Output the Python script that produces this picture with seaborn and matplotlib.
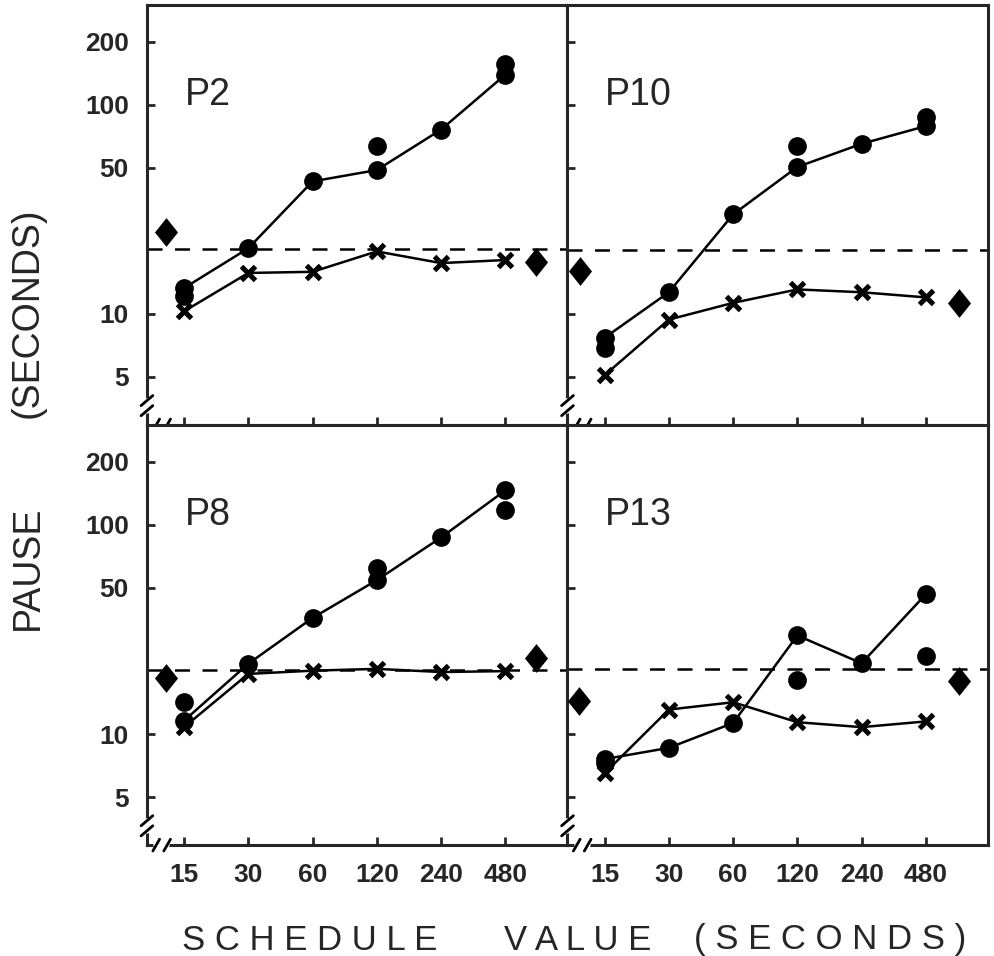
import numpy as np
import pandas as pd
import seaborn as sns
import matplotlib.pyplot as plt

# schedule values (s) on the x axis
schedule = [15, 30, 60, 120, 240, 480]
panels = ["P2", "P10", "P8", "P13"]

# connected filled circles, one per schedule value
circle_line = {
    "P2": [13.3, 20.6, 43, 48.7, 76, 139],
    "P10": [7.7, 12.7, 29.9, 50.4, 65, 79],
    "P8": [11.6, 21.7, 35.9, 54.4, 87, 146],
    "P13": [7.6, 8.6, 11.3, 29.6, 21.8, 46.6],
}
# extra (unconnected) circles
circle_extra = {
    "P2": [12.2, np.nan, np.nan, 63.5, np.nan, 157],
    "P10": [6.9, np.nan, np.nan, 63.5, np.nan, 87],
    "P8": [14.2, np.nan, np.nan, 62, np.nan, 118],
    "P13": [7.3, np.nan, np.nan, 18.2, np.nan, 23.6],
}
# crosses
cross_line = {
    "P2": [10.3, 15.7, 15.9, 19.9, 17.5, 18.1],
    "P10": [5.1, 9.4, 11.3, 13.1, 12.7, 12.0],
    "P8": [10.8, 19.4, 20.1, 20.5, 19.8, 20.0],
    "P13": [6.5, 13.1, 14.2, 11.4, 10.8, 11.5],
}
# diamonds before and after the schedule series
diamond_x = {
    "P2": [12.4, 670], "P10": [11.5, 683], "P8": [12.3, 665], "P13": [11.4, 683],
}
diamond_y = {
    "P2": [24.6, 17.8], "P10": [16.0, 11.3], "P8": [18.6, 23.1], "P13": [14.4, 18.0],
}
# dashed reference level
dashed_level = {"P2": 20.4, "P10": 20.2, "P8": 20.3, "P13": 20.5}

yticks = [5, 10, 50, 100, 200]

sns.set_style("ticks")
plt.rcParams["font.family"] = ["Liberation Sans", "DejaVu Sans"]

fig, axes = plt.subplots(2, 2, figsize=(9.95, 9.56), dpi=100, sharex=True, sharey=True)
fig.subplots_adjust(left=0.1477, right=0.993, top=0.995, bottom=0.116, wspace=0, hspace=0)

diamond_marker = [(0, 1), (0.8, 0), (0, -1), (-0.8, 0), (0, 1)]


def add_breaks(ax):
    kw = dict(transform=ax.transAxes, clip_on=False)
    # y axis break
    ax.plot([0, 0], [0.034, 0.058], color="white", lw=4, zorder=5, **kw)
    for y in (0.034, 0.058):
        ax.plot([-0.014, 0.014], [y - 0.012, y + 0.012], color="black", lw=2, zorder=6, **kw)
    # x axis break
    ax.plot([0.022, 0.048], [0, 0], color="white", lw=4, zorder=5, **kw)
    for x in (0.022, 0.048):
        ax.plot([x - 0.008, x + 0.008], [-0.014, 0.014], color="black", lw=2, zorder=6, **kw)


for ax, p in zip(axes.flat, panels):
    ax.set_xscale("log", base=2)
    ax.set_yscale("log")

    ax.axhline(dashed_level[p], color="black", lw=1.8, dashes=(6, 5), zorder=1)

    sns.lineplot(x=schedule, y=circle_line[p], ax=ax, color="black", lw=1.8,
                 marker="o", markersize=13.5, markeredgewidth=0, zorder=3)
    sns.lineplot(x=schedule, y=cross_line[p], ax=ax, color="black", lw=1.8,
                 marker="x", markersize=10.5, markeredgewidth=3.6,
                 markeredgecolor="black", zorder=3)
    sns.scatterplot(x=schedule, y=circle_extra[p], ax=ax, color="black",
                    marker="o", s=182, linewidth=0, zorder=3)
    sns.scatterplot(x=diamond_x[p], y=diamond_y[p], ax=ax, color="black",
                    marker=diamond_marker, s=430, linewidth=0, zorder=3)

    ax.text(0.09, 0.762, p, transform=ax.transAxes, fontsize=27, ha="left", va="baseline")

    for s in ax.spines.values():
        s.set_linewidth(2.2)
    ax.tick_params(direction="in", length=6, width=2, labelsize=19, pad=13)
    ax.tick_params(which="minor", length=0)
    add_breaks(ax)

ax0 = axes[0, 0]
ax0.set_xlim(10.05, 939)
ax0.set_ylim(2.95, 300)
ax0.set_xticks(schedule)
ax0.set_xticklabels([str(v) for v in schedule])
ax0.set_yticks(yticks)
ax0.set_yticklabels([str(v) for v in yticks])
ax0.minorticks_off()

for ax in axes.flat:
    for lab in ax.get_xticklabels() + ax.get_yticklabels():
        lab.set_fontweight("bold")
    ax.set_xlabel("")
    ax.set_ylabel("")

# axis titles
fig.text(0.028, 1 - 568 / 956, "PAUSE", rotation=90, fontsize=27, ha="center", va="center")
fig.text(0.028, 1 - 313 / 956, "(SECONDS)", rotation=90, fontsize=27, ha="center", va="center")
fig.text(310 / 995, 1 - 940 / 956, "S C H E D U L E", fontsize=25, ha="center", va="center")
fig.text(578 / 995, 1 - 940 / 956, "V A L U E", fontsize=25, ha="center", va="center")
fig.text(830 / 995, 1 - 940 / 956, "( S E C O N D S )", fontsize=25, ha="center", va="center")

fig.savefig("out.png", dpi=100)
